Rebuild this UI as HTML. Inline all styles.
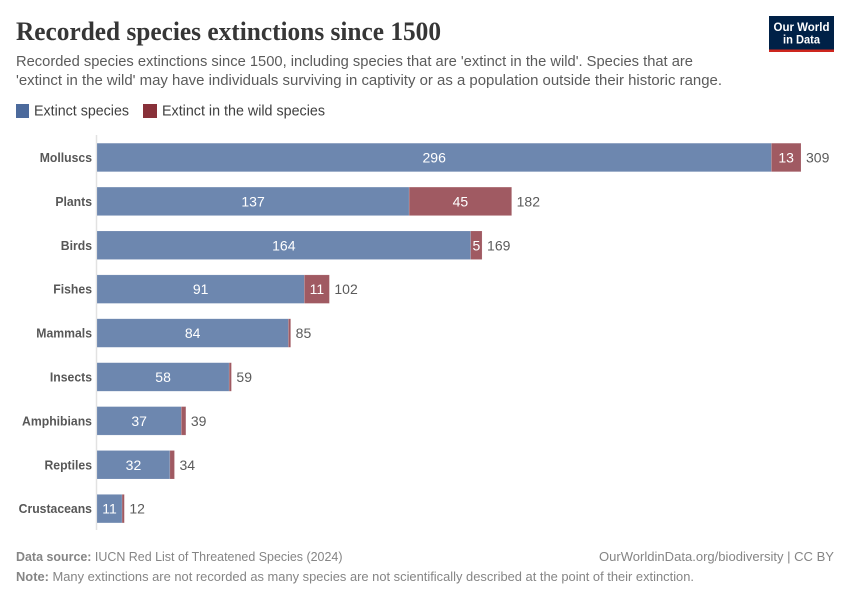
<!DOCTYPE html>
<html>
<head>
<meta charset="utf-8">
<title>Recorded species extinctions since 1500</title>
<style>
html,body{margin:0;padding:0;background:#fff;}
svg{display:block;font-family:"Liberation Sans",sans-serif;}
</style>
</head>
<body>
<svg id="chart" width="850" height="600" viewBox="0 0 850 600" xmlns="http://www.w3.org/2000/svg">
  <rect x="0" y="0" width="850" height="600" fill="#fff"/>
  <text x="16" y="40" font-family="'Liberation Serif',serif" font-weight="700" font-size="26" fill="#363636" textLength="425" lengthAdjust="spacingAndGlyphs">Recorded species extinctions since 1500</text>
  <text x="16" y="66" font-size="14.5" fill="#5b5b5b" textLength="677" lengthAdjust="spacingAndGlyphs">Recorded species extinctions since 1500, including species that are 'extinct in the wild'. Species that are</text>
  <text x="16" y="85" font-size="14.5" fill="#5b5b5b" textLength="706" lengthAdjust="spacingAndGlyphs">'extinct in the wild' may have individuals surviving in captivity or as a population outside their historic range.</text>

  <g>
    <rect x="769" y="16" width="65" height="36" fill="#002147"/>
    <rect x="769" y="49.5" width="65" height="2.5" fill="#ce261e"/>
    <text x="801.5" y="31" text-anchor="middle" font-size="12" font-weight="700" fill="#fff" textLength="56" lengthAdjust="spacingAndGlyphs">Our World</text>
    <text x="801.5" y="43.5" text-anchor="middle" font-size="12" font-weight="700" fill="#fff" textLength="37" lengthAdjust="spacingAndGlyphs">in Data</text>
  </g>

  <g>
    <rect x="16" y="104" width="13" height="14" fill="#4c6a9c"/>
    <text x="34" y="115.5" font-size="14.5" fill="#3f3f3f" textLength="95" lengthAdjust="spacingAndGlyphs">Extinct species</text>
    <rect x="143" y="104" width="14" height="14" fill="#883039"/>
    <text x="162" y="115.5" font-size="14.5" fill="#3f3f3f" textLength="163" lengthAdjust="spacingAndGlyphs">Extinct in the wild species</text>
  </g>

  <line x1="96.5" y1="135" x2="96.5" y2="530" stroke="#e2e2e2" stroke-width="1.5"/>
  <g id="bars"></g>

  <g>
    <text x="16" y="561" font-size="13" fill="#858585" textLength="326.5" lengthAdjust="spacingAndGlyphs"><tspan font-weight="700">Data source:</tspan> IUCN Red List of Threatened Species (2024)</text>
    <text x="599" y="561" font-size="13" fill="#858585" textLength="235" lengthAdjust="spacingAndGlyphs">OurWorldinData.org/biodiversity | CC BY</text>
    <text x="16" y="581" font-size="13" fill="#858585" textLength="678" lengthAdjust="spacingAndGlyphs"><tspan font-weight="700">Note:</tspan> Many extinctions are not recorded as many species are not scientifically described at the point of their extinction.</text>
  </g>
</svg>
<script>
const categories = ["Molluscs","Plants","Birds","Fishes","Mammals","Insects","Amphibians","Reptiles","Crustaceans"];
const extinctSpecies = [296,137,164,91,84,58,37,32,11];
const extinctInWild = [13,45,5,11,1,1,2,2,1];

const svgNS = "http://www.w3.org/2000/svg";
const barsGroup = document.getElementById("bars");
const xOrigin = 97;
const pxPerUnit = 704 / 309;
const firstBarTop = 143.2;
const rowStep = 43.9;
const barHeight = 28.5;
function xScale(v){ return xOrigin + v * pxPerUnit; }
function rowY(i){ return firstBarTop + i * rowStep; }
function make(tag, attrs, text){
  const el = document.createElementNS(svgNS, tag);
  for (const k in attrs) el.setAttribute(k, attrs[k]);
  if (text !== undefined) el.textContent = text;
  return el;
}
function slug(s){ return s.toLowerCase(); }

categories.forEach(function(cat, i){
  const a = extinctSpecies[i];
  const b = extinctInWild[i];
  const total = a + b;
  const y = rowY(i);
  const mid = y + barHeight / 2 + 5;

  const label = make("text", {x: 92, y: mid - 0.5, "text-anchor": "end", "font-size": 13, "font-weight": 700, fill: "#575757"}, cat);
  
  
  barsGroup.appendChild(label);
  label.setAttribute('textLength', label.getComputedTextLength() * 0.94);
  label.setAttribute('lengthAdjust', 'spacingAndGlyphs');

  const barA = make("rect", {x: xScale(0), y: y, width: xScale(a) - xScale(0), height: barHeight, fill: "#6d87af", stroke: "#fff", "stroke-opacity": 0.25, "stroke-width": 0.5});
  
  
  barsGroup.appendChild(barA);

  const barB = make("rect", {x: xScale(a), y: y, width: xScale(total) - xScale(a), height: barHeight, fill: "#a05a62", stroke: "#fff", "stroke-opacity": 0.25, "stroke-width": 0.5});
  
  
  barsGroup.appendChild(barB);

  const valA = make("text", {x: (xScale(0) + xScale(a)) / 2, y: mid, "text-anchor": "middle", "font-size": 14, fill: "#fff"}, String(a));
  
  
  barsGroup.appendChild(valA);

  if ((xScale(total) - xScale(a)) >= String(b).length * 8) {
    const valB = make("text", {x: (xScale(a) + xScale(total)) / 2, y: mid, "text-anchor": "middle", "font-size": 14, fill: "#fff"}, String(b));
    
    
    barsGroup.appendChild(valB);
  }

  const valT = make("text", {x: xScale(total) + 5, y: mid, "font-size": 14, fill: "#5b5b5b"}, String(total));
  
  
  barsGroup.appendChild(valT);
});
</script>
</body>
</html>
